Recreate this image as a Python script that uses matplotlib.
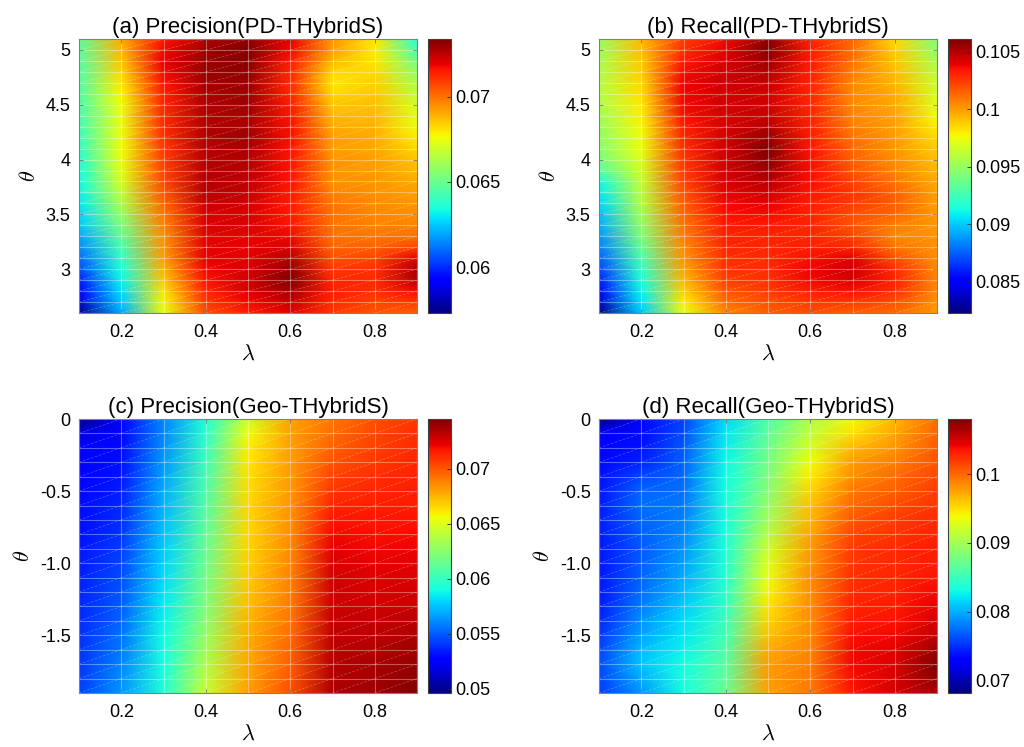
import numpy as np
import matplotlib
matplotlib.use("Agg")
import matplotlib.pyplot as plt
from matplotlib.collections import LineCollection
from matplotlib.ticker import FormatStrFormatter

plt.rcParams['font.family'] = ['Liberation Sans', 'DejaVu Sans']
plt.rcParams['mathtext.fontset'] = 'cm'

## grids
lam = [0.1, 0.2, 0.3, 0.4, 0.5, 0.6, 0.7, 0.8, 0.9]
theta_pd = [2.6, 2.7, 2.8, 2.9, 3.0, 3.1, 3.2, 3.3, 3.4, 3.5, 3.6, 3.7, 3.8,
            3.9, 4.0, 4.1, 4.2, 4.3, 4.4, 4.5, 4.6, 4.7, 4.8, 4.9, 5.0, 5.1]
theta_geo = [-1.9, -1.8, -1.7, -1.6, -1.5, -1.4, -1.3, -1.2, -1.1, -1.0,
             -0.9, -0.8, -0.7, -0.6, -0.5, -0.4, -0.3, -0.2, -0.1, 0.0]

## (a) precision PD-THybridS, one list per lambda (theta ascending)
prec_pd = [
    [0.0573, 0.0585, 0.0592, 0.0598, 0.0604, 0.0610, 0.0615, 0.0620, 0.0625, 0.0628, 0.0630, 0.0632, 0.0633, 0.0634, 0.0636, 0.0638, 0.0640, 0.0642, 0.0643, 0.0644, 0.0645, 0.0645, 0.0645, 0.0646, 0.0647, 0.0648],
    [0.0620, 0.0624, 0.0628, 0.0632, 0.0635, 0.0639, 0.0643, 0.0648, 0.0653, 0.0658, 0.0663, 0.0667, 0.0671, 0.0674, 0.0675, 0.0676, 0.0676, 0.0675, 0.0675, 0.0676, 0.0678, 0.0680, 0.0683, 0.0686, 0.0688, 0.0690],
    [0.0674, 0.0677, 0.0681, 0.0685, 0.0689, 0.0692, 0.0694, 0.0695, 0.0697, 0.0699, 0.0702, 0.0705, 0.0707, 0.0708, 0.0709, 0.0710, 0.0711, 0.0712, 0.0712, 0.0713, 0.0714, 0.0716, 0.0718, 0.0719, 0.0718, 0.0716],
    [0.0706, 0.0710, 0.0713, 0.0716, 0.0718, 0.0719, 0.0720, 0.0720, 0.0721, 0.0722, 0.0724, 0.0726, 0.0727, 0.0727, 0.0726, 0.0726, 0.0727, 0.0727, 0.0727, 0.0727, 0.0728, 0.0729, 0.0730, 0.0730, 0.0729, 0.0727],
    [0.0714, 0.0718, 0.0721, 0.0723, 0.0722, 0.0720, 0.0719, 0.0720, 0.0721, 0.0722, 0.0723, 0.0724, 0.0725, 0.0726, 0.0727, 0.0728, 0.0729, 0.0728, 0.0728, 0.0729, 0.0730, 0.0730, 0.0731, 0.0732, 0.0734, 0.0731],
    [0.0719, 0.0724, 0.0729, 0.0733, 0.0731, 0.0726, 0.0721, 0.0718, 0.0716, 0.0715, 0.0715, 0.0715, 0.0716, 0.0716, 0.0716, 0.0716, 0.0717, 0.0717, 0.0716, 0.0715, 0.0713, 0.0712, 0.0713, 0.0715, 0.0718, 0.0719],
    [0.0710, 0.0712, 0.0714, 0.0713, 0.0710, 0.0706, 0.0702, 0.0700, 0.0700, 0.0700, 0.0699, 0.0697, 0.0695, 0.0694, 0.0694, 0.0693, 0.0692, 0.0690, 0.0688, 0.0686, 0.0683, 0.0680, 0.0683, 0.0688, 0.0692, 0.0694],
    [0.0705, 0.0708, 0.0711, 0.0712, 0.0711, 0.0708, 0.0703, 0.0699, 0.0697, 0.0696, 0.0696, 0.0695, 0.0694, 0.0693, 0.0692, 0.0691, 0.0690, 0.0689, 0.0688, 0.0687, 0.0685, 0.0684, 0.0682, 0.0680, 0.0679, 0.0680],
    [0.0703, 0.0710, 0.0718, 0.0726, 0.0728, 0.0720, 0.0708, 0.0700, 0.0697, 0.0695, 0.0694, 0.0692, 0.0690, 0.0688, 0.0686, 0.0683, 0.0679, 0.0675, 0.0673, 0.0670, 0.0667, 0.0662, 0.0658, 0.0651, 0.0643, 0.0636],
]

## (b) recall PD-THybridS
rec_pd = [
    [0.0823, 0.0838, 0.0850, 0.0860, 0.0868, 0.0875, 0.0882, 0.0888, 0.0893, 0.0898, 0.0903, 0.0908, 0.0912, 0.0930, 0.0940, 0.0945, 0.0948, 0.0950, 0.0953, 0.0956, 0.0958, 0.0958, 0.0957, 0.0955, 0.0952, 0.0950],
    [0.0900, 0.0905, 0.0910, 0.0915, 0.0920, 0.0928, 0.0935, 0.0942, 0.0948, 0.0953, 0.0957, 0.0960, 0.0963, 0.0966, 0.0970, 0.0973, 0.0975, 0.0977, 0.0979, 0.0981, 0.0983, 0.0985, 0.0987, 0.0989, 0.0991, 0.0993],
    [0.0972, 0.0980, 0.0987, 0.0993, 0.0998, 0.1002, 0.1005, 0.1008, 0.1010, 0.1013, 0.1016, 0.1019, 0.1022, 0.1024, 0.1026, 0.1028, 0.1030, 0.1032, 0.1035, 0.1037, 0.1038, 0.1038, 0.1036, 0.1033, 0.1028, 0.1024],
    [0.1005, 0.1012, 0.1018, 0.1023, 0.1026, 0.1028, 0.1030, 0.1031, 0.1033, 0.1035, 0.1037, 0.1040, 0.1043, 0.1044, 0.1045, 0.1045, 0.1044, 0.1043, 0.1043, 0.1044, 0.1045, 0.1046, 0.1045, 0.1043, 0.1040, 0.1036],
    [0.1015, 0.1020, 0.1024, 0.1027, 0.1028, 0.1029, 0.1030, 0.1031, 0.1033, 0.1036, 0.1040, 0.1045, 0.1050, 0.1055, 0.1058, 0.1061, 0.1056, 0.1050, 0.1046, 0.1044, 0.1045, 0.1047, 0.1050, 0.1055, 0.1061, 0.1058],
    [0.1020, 0.1025, 0.1032, 0.1037, 0.1038, 0.1035, 0.1032, 0.1030, 0.1030, 0.1031, 0.1032, 0.1034, 0.1035, 0.1035, 0.1035, 0.1034, 0.1033, 0.1032, 0.1031, 0.1030, 0.1030, 0.1031, 0.1032, 0.1033, 0.1033, 0.1031],
    [0.1015, 0.1025, 0.1035, 0.1042, 0.1045, 0.1040, 0.1030, 0.1022, 0.1018, 0.1020, 0.1024, 0.1026, 0.1022, 0.1018, 0.1015, 0.1013, 0.1010, 0.1008, 0.1006, 0.1005, 0.1005, 0.1006, 0.1008, 0.1010, 0.1012, 0.1014],
    [0.1012, 0.1020, 0.1027, 0.1031, 0.1028, 0.1020, 0.1010, 0.1005, 0.1008, 0.1013, 0.1016, 0.1015, 0.1010, 0.1006, 0.1004, 0.1002, 0.1000, 0.0999, 0.0998, 0.0997, 0.0996, 0.0994, 0.0992, 0.0990, 0.0987, 0.0984],
    [0.1000, 0.1003, 0.1005, 0.1006, 0.1005, 0.1004, 0.1003, 0.1002, 0.1001, 0.1000, 0.0999, 0.0998, 0.0996, 0.0994, 0.0991, 0.0988, 0.0984, 0.0980, 0.0975, 0.0971, 0.0968, 0.0965, 0.0960, 0.0955, 0.0948, 0.0942],
]

## (c) precision Geo-THybridS
prec_geo = [
    [0.0542, 0.0541, 0.0540, 0.0539, 0.0538, 0.0537, 0.0536, 0.0535, 0.0534, 0.0533, 0.0532, 0.0531, 0.0530, 0.0530, 0.0529, 0.0528, 0.0527, 0.0524, 0.0518, 0.0496],
    [0.0565, 0.0562, 0.0560, 0.0557, 0.0555, 0.0552, 0.0550, 0.0548, 0.0546, 0.0544, 0.0542, 0.0540, 0.0538, 0.0536, 0.0534, 0.0532, 0.0531, 0.0530, 0.0529, 0.0528],
    [0.0593, 0.0592, 0.0591, 0.0590, 0.0589, 0.0587, 0.0585, 0.0583, 0.0581, 0.0579, 0.0577, 0.0575, 0.0573, 0.0571, 0.0569, 0.0567, 0.0565, 0.0563, 0.0561, 0.0560],
    [0.0643, 0.0640, 0.0636, 0.0632, 0.0628, 0.0625, 0.0622, 0.0620, 0.0618, 0.0616, 0.0614, 0.0612, 0.0610, 0.0608, 0.0606, 0.0604, 0.0602, 0.0599, 0.0596, 0.0593],
    [0.0680, 0.0679, 0.0678, 0.0677, 0.0676, 0.0675, 0.0673, 0.0671, 0.0669, 0.0668, 0.0667, 0.0666, 0.0666, 0.0666, 0.0665, 0.0664, 0.0662, 0.0660, 0.0655, 0.0645],
    [0.0702, 0.0700, 0.0698, 0.0696, 0.0694, 0.0692, 0.0690, 0.0689, 0.0688, 0.0687, 0.0686, 0.0685, 0.0684, 0.0683, 0.0682, 0.0682, 0.0681, 0.0680, 0.0680, 0.0679],
    [0.0735, 0.0734, 0.0733, 0.0732, 0.0731, 0.0730, 0.0729, 0.0728, 0.0727, 0.0725, 0.0723, 0.0720, 0.0717, 0.0713, 0.0709, 0.0705, 0.0701, 0.0697, 0.0694, 0.0691],
    [0.0738, 0.0737, 0.0736, 0.0734, 0.0732, 0.0730, 0.0728, 0.0726, 0.0724, 0.0722, 0.0720, 0.0718, 0.0716, 0.0714, 0.0712, 0.0710, 0.0708, 0.0706, 0.0704, 0.0702],
    [0.0745, 0.0742, 0.0740, 0.0738, 0.0735, 0.0732, 0.0729, 0.0727, 0.0725, 0.0723, 0.0721, 0.0719, 0.0717, 0.0715, 0.0714, 0.0713, 0.0712, 0.0711, 0.0710, 0.0709],
]

## (d) recall Geo-THybridS
rec_geo = [
    [0.0755, 0.0758, 0.0760, 0.0758, 0.0752, 0.0746, 0.0742, 0.0740, 0.0740, 0.0740, 0.0741, 0.0742, 0.0743, 0.0742, 0.0740, 0.0737, 0.0734, 0.0731, 0.0726, 0.0682],
    [0.0790, 0.0800, 0.0808, 0.0805, 0.0795, 0.0788, 0.0780, 0.0775, 0.0770, 0.0768, 0.0767, 0.0768, 0.0772, 0.0775, 0.0772, 0.0760, 0.0745, 0.0738, 0.0735, 0.0733],
    [0.0832, 0.0833, 0.0832, 0.0828, 0.0823, 0.0818, 0.0812, 0.0805, 0.0800, 0.0795, 0.0790, 0.0786, 0.0782, 0.0779, 0.0776, 0.0773, 0.0770, 0.0766, 0.0762, 0.0758],
    [0.0872, 0.0868, 0.0865, 0.0860, 0.0855, 0.0850, 0.0846, 0.0843, 0.0840, 0.0838, 0.0836, 0.0835, 0.0834, 0.0833, 0.0832, 0.0831, 0.0829, 0.0826, 0.0822, 0.0817],
    [0.0975, 0.0978, 0.0978, 0.0972, 0.0963, 0.0955, 0.0948, 0.0941, 0.0935, 0.0929, 0.0920, 0.0910, 0.0900, 0.0893, 0.0887, 0.0882, 0.0877, 0.0872, 0.0866, 0.0860],
    [0.0992, 0.0992, 0.0990, 0.0988, 0.0986, 0.0985, 0.0985, 0.0985, 0.0984, 0.0982, 0.0980, 0.0975, 0.0968, 0.0962, 0.0955, 0.0946, 0.0936, 0.0926, 0.0915, 0.0903],
    [0.1035, 0.1038, 0.1040, 0.1040, 0.1037, 0.1033, 0.1030, 0.1027, 0.1025, 0.1022, 0.1020, 0.1015, 0.1008, 0.1000, 0.0993, 0.0985, 0.0978, 0.0965, 0.0950, 0.0938],
    [0.1050, 0.1050, 0.1048, 0.1045, 0.1040, 0.1035, 0.1032, 0.1030, 0.1028, 0.1027, 0.1026, 0.1022, 0.1018, 0.1012, 0.1005, 0.0998, 0.0990, 0.0982, 0.0975, 0.0965],
    [0.1065, 0.1075, 0.1080, 0.1070, 0.1058, 0.1050, 0.1045, 0.1040, 0.1035, 0.1033, 0.1032, 0.1030, 0.1026, 0.1022, 0.1018, 0.1014, 0.1010, 0.1006, 0.1002, 0.0998],
]

titles = ['(a) Precision(PD-THybridS)', '(b) Recall(PD-THybridS)',
          '(c) Precision(Geo-THybridS)', '(d) Recall(Geo-THybridS)']
cb_ticks = [[0.06, 0.065, 0.07],
            [0.085, 0.09, 0.095, 0.1, 0.105],
            [0.05, 0.055, 0.06, 0.065, 0.07],
            [0.07, 0.08, 0.09, 0.1]]
yt_pd = [3, 3.5, 4, 4.5, 5]
yt_pd_lbl = ['3', '3.5', '4', '4.5', '5']
yt_geo = [-1.5, -1.0, -0.5, 0]
yt_geo_lbl = ['-1.5', '-1.0', '-0.5', '0']

fig = plt.figure(figsize=(10.24, 7.47), dpi=100)

# axes boxes in pixels: (left, top) of plot area
boxes = [(79, 39), (599, 39), (79, 419), (599, 419)]
W, H = 1024.0, 747.0
aw, ah = 338, 274
cb_off, cb_w = 349, 23

panels = [(prec_pd, theta_pd, yt_pd, yt_pd_lbl),
          (rec_pd, theta_pd, yt_pd, yt_pd_lbl),
          (prec_geo, theta_geo, yt_geo, yt_geo_lbl),
          (rec_geo, theta_geo, yt_geo, yt_geo_lbl)]

edge = '#262626'
for k, (vals, th, yt, ytl) in enumerate(panels):
    x0, y0 = boxes[k]
    ax = fig.add_axes([x0 / W, 1 - (y0 + ah) / H, aw / W, ah / H])
    cax = fig.add_axes([(x0 + cb_off) / W, 1 - (y0 + ah) / H, cb_w / W, ah / H])

    Z = np.array(vals).T
    X, Y = np.meshgrid(lam, th)
    pc = ax.pcolormesh(X, Y, Z, shading='gouraud', cmap='jet',
                       vmin=Z.min(), vmax=Z.max(), rasterized=True)

    # faint mesh edges like the matlab surface
    grid_segs = []
    for xv in lam:
        grid_segs.append([(xv, th[0]), (xv, th[-1])])
    for yv in th:
        grid_segs.append([(lam[0], yv), (lam[-1], yv)])
    diag_segs = []
    for i in range(len(lam) - 1):
        for j in range(len(th) - 1):
            diag_segs.append([(lam[i], th[j]), (lam[i + 1], th[j + 1])])
    ax.add_collection(LineCollection(grid_segs, colors='white', linewidths=0.8, alpha=0.35))
    ax.add_collection(LineCollection(diag_segs, colors='white', linewidths=0.5,
                                     alpha=0.3, linestyles=(0, (4, 2))))

    ax.set_xlim(lam[0], lam[-1])
    ax.set_ylim(th[0], th[-1])
    ax.set_xticks([0.2, 0.4, 0.6, 0.8])
    ax.set_xticklabels(['0.2', '0.4', '0.6', '0.8'])
    ax.set_yticks(yt)
    ax.set_yticklabels(ytl)
    ax.tick_params(direction='in', length=3, width=0.6, color=edge,
                   labelsize=13, top=True, right=True)
    ax.tick_params(axis='x', pad=8)
    ax.tick_params(axis='y', pad=6)
    for s in ax.spines.values():
        s.set_color('#808080')
        s.set_linewidth(0.8)
    ax.set_title(titles[k], fontsize=16, pad=4)
    ax.set_xlabel(r'$\lambda$', fontsize=16, labelpad=2)
    ax.set_ylabel(r'$\theta$', fontsize=16, labelpad=4)

    cb = fig.colorbar(pc, cax=cax)
    cb.set_ticks(cb_ticks[k])
    cb.ax.yaxis.set_major_formatter(FormatStrFormatter('%g'))
    cb.ax.tick_params(direction='in', length=3, width=0.6, color=edge,
                      labelsize=13, pad=3)
    cb.outline.set_edgecolor('#404040')
    cb.outline.set_linewidth(0.8)

fig.savefig('out.png', dpi=100)
